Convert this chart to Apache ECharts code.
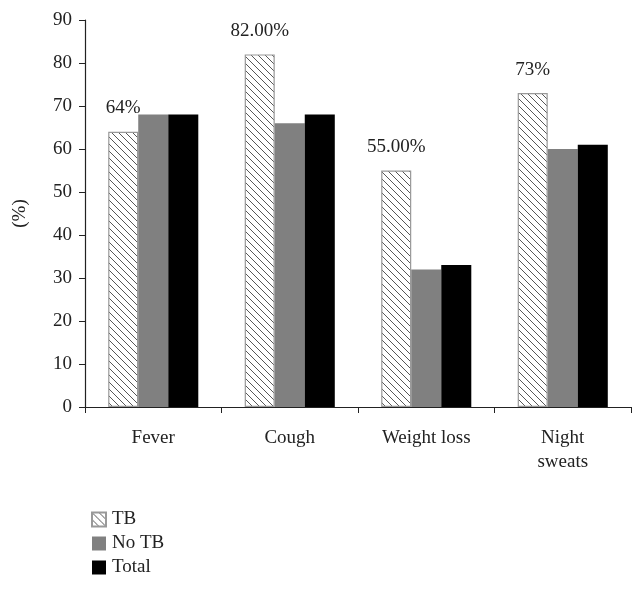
<!DOCTYPE html>
<html><head><meta charset="utf-8">
<script src="https://cdn.jsdelivr.net/npm/echarts@6/dist/echarts.min.js"></script>
<style>html,body{margin:0;padding:0;background:#fff}#c{width:643px;height:589px}</style>
</head><body><div id="c"></div>
<script>
var categories = ['Fever', 'Cough', 'Weight loss', 'Night\nsweats'];
var tbValues = [64, 82, 55, 73];
var noTbValues = [68, 66, 32, 60];
var totalValues = [68, 68, 33, 61];
var tbLabels = ['64%', '82.00%', '55.00%', '73%'];
var yTicks = [0, 10, 20, 30, 40, 50, 60, 70, 80, 90];

function hatch() {
  var s = 7, c = document.createElement('canvas');
  c.width = s; c.height = s;
  var g = c.getContext('2d');
  g.fillStyle = '#fff'; g.fillRect(0, 0, s, s);
  g.strokeStyle = '#444'; g.lineWidth = 0.9;
  g.beginPath();
  g.moveTo(-1, -1); g.lineTo(s + 1, s + 1);
  g.moveTo(-1, s - 1); g.lineTo(1, s + 1);
  g.moveTo(s - 1, -1); g.lineTo(s + 1, 1);
  g.stroke();
  return c;
}
var pat = { image: hatch(), repeat: 'repeat' };
var font = 'Liberation Serif';
var fs = 19;
var chart = echarts.init(document.getElementById('c'));
chart.setOption({
  animation: false,
  textStyle: { fontFamily: font },
  grid: { left: 85, top: 20, right: 12, bottom: 182, containLabel: false },
  legend: {
    orient: 'vertical', left: 86, top: 505, height: 84, itemWidth: 14, itemHeight: 14, itemGap: 5,
    icon: 'rect',
    textStyle: { fontFamily: font, fontSize: fs, color: '#222', padding: [0, 0, 0, 1] },
    data: ['TB', 'No TB', 'Total']
  },
  xAxis: {
    type: 'category', data: categories,
    axisLine: { lineStyle: { color: '#222', width: 1.2 } },
    axisTick: { show: true, length: 6, alignWithLabel: false, lineStyle: { color: '#222' } },
    axisLabel: { fontFamily: font, fontSize: fs, color: '#222', margin: 19, lineHeight: 24 }
  },
  yAxis: {
    type: 'value', min: 0, max: 90, interval: 10,
    name: '(%)', nameLocation: 'middle', nameGap: 55, nameRotate: 90,
    nameTextStyle: { fontFamily: font, fontSize: fs, color: '#222' },
    axisLine: { show: true, lineStyle: { color: '#222', width: 1.2 } },
    axisTick: { show: true, length: 6, lineStyle: { color: '#222' } },
    splitLine: { show: false },
    axisLabel: { fontFamily: font, fontSize: fs, color: '#222', margin: 13,
      formatter: function (v) { return yTicks.indexOf(v) >= 0 ? String(v) : ''; } }
  },
  series: [
    { name: 'TB', type: 'bar', data: tbValues, barGap: '0%', barCategoryGap: '34%',
      itemStyle: { color: pat, borderColor: '#999', borderWidth: 1.2 },
      label: { show: true, position: 'top', distance: 14, fontFamily: font, fontSize: fs, color: '#222',
        formatter: function (p) { return tbLabels[p.dataIndex]; } } },
    { name: 'No TB', type: 'bar', data: noTbValues, itemStyle: { color: '#808080' } },
    { name: 'Total', type: 'bar', data: totalValues, itemStyle: { color: '#000' } }
  ]
});
</script></body></html>
